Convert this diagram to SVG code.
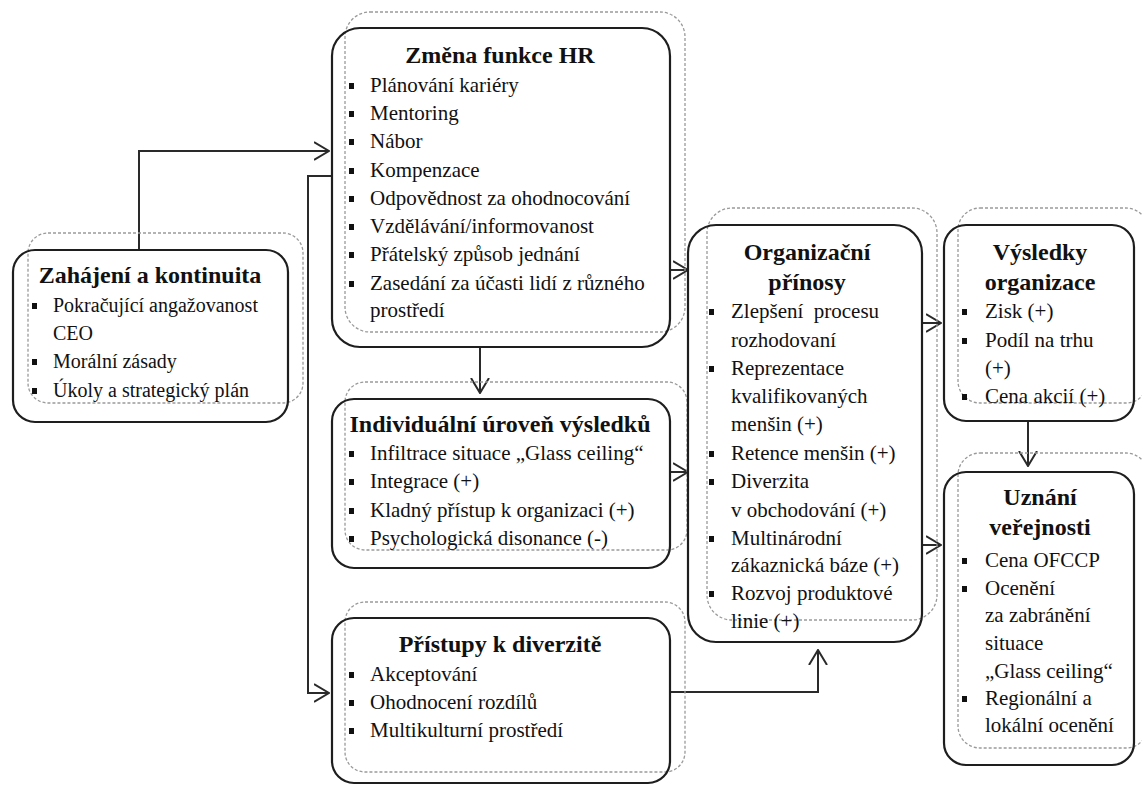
<svg xmlns="http://www.w3.org/2000/svg" xmlns:xlink="http://www.w3.org/1999/xlink" width="1142" height="787" viewBox="0 0 1142 787">
  <style>
    .box { fill: none; stroke: #1e1e1e; stroke-width: 2.2; }
    .shade { fill: none; stroke: #9a9a9a; stroke-width: 1.3; stroke-dasharray: 3 2; }
    text { font-family: 'Liberation Serif', 'Times New Roman', Times, 'DejaVu Serif', serif; fill: #111; }
    .title { font-weight: bold; font-size: 24px; text-anchor: middle; }
    .item { font-size: 21px; }
    .item20 { font-size: 20px; }
    .conn { fill: none; stroke: #2a2a2a; stroke-width: 2; }
  </style>
  <defs>
    <marker id="arr" viewBox="0 0 16 20" refX="15" refY="10" markerWidth="16" markerHeight="20" markerUnits="userSpaceOnUse" orient="auto">
      <path d="M0,1 L15,10 L0,19" fill="none" stroke="#2a2a2a" stroke-width="2"/>
    </marker>
    <rect id="bul" width="5" height="6" fill="#111"/>
  </defs>
  <rect width="1142" height="787" fill="#ffffff"/>

  <!-- connectors -->
  <g id="connectors">
    <path class="conn" d="M139,250 V151 H329" marker-end="url(#arr)"/>
    <path class="conn" d="M332,176 H308 V693 H329" marker-end="url(#arr)"/>
    <path class="conn" d="M480,347 V393" marker-end="url(#arr)"/>
    <path class="conn" d="M670,270 H688" marker-end="url(#arr)"/>
    <path class="conn" d="M670,472 H688" marker-end="url(#arr)"/>
    <path class="conn" d="M670,692 H818 V650" marker-end="url(#arr)"/>
    <path class="conn" d="M922,323 H941" marker-end="url(#arr)"/>
    <path class="conn" d="M922,545 H941" marker-end="url(#arr)"/>
    <path class="conn" d="M1028,421 V466" marker-end="url(#arr)"/>
  </g>

  <!-- Zahájení a kontinuita -->
  <g id="node-zahajeni">
    <rect class="shade" x="28" y="233" width="275" height="170" rx="20"/>
    <rect class="box" x="13" y="250" width="275" height="172" rx="22"/>
    <text class="title" x="150" y="283">Zahájení a kontinuita</text>
    <use xlink:href="#bul" x="32" y="303"/>
    <text class="item20" x="53" y="312">Pokračující angažovanost</text>
    <text class="item20" x="53" y="340">CEO</text>
    <use xlink:href="#bul" x="32" y="359"/>
    <text class="item20" x="53" y="368">Morální zásady</text>
    <use xlink:href="#bul" x="32" y="388"/>
    <text class="item20" x="53" y="397">Úkoly a strategický plán</text>
  </g>

  <!-- Změna funkce HR -->
  <g id="node-hr">
    <rect class="shade" x="345" y="12" width="340" height="320" rx="25"/>
    <rect class="box" x="332" y="28" width="338" height="319" rx="28"/>
    <text class="title" x="500" y="63">Změna funkce HR</text>
    <use xlink:href="#bul" x="349" y="83"/>
    <text class="item" x="370" y="92">Plánování kariéry</text>
    <use xlink:href="#bul" x="349" y="111"/>
    <text class="item" x="370" y="120">Mentoring</text>
    <use xlink:href="#bul" x="349" y="139"/>
    <text class="item" x="370" y="148">Nábor</text>
    <use xlink:href="#bul" x="349" y="168"/>
    <text class="item" x="370" y="177">Kompenzace</text>
    <use xlink:href="#bul" x="349" y="196"/>
    <text class="item" x="370" y="205">Odpovědnost za ohodnocování</text>
    <use xlink:href="#bul" x="349" y="224"/>
    <text class="item" x="370" y="233">Vzdělávání/informovanost</text>
    <use xlink:href="#bul" x="349" y="252"/>
    <text class="item" x="370" y="261">Přátelský způsob jednání</text>
    <use xlink:href="#bul" x="349" y="281"/>
    <text class="item" x="370" y="290">Zasedání za účasti lidí z různého</text>
    <text class="item" x="370" y="317">prostředí</text>
  </g>

  <!-- Individuální úroveň výsledků -->
  <g id="node-individualni">
    <rect class="shade" x="345" y="382" width="342" height="168" rx="20"/>
    <rect class="box" x="332" y="399" width="338" height="169" rx="22"/>
    <text class="title" x="500" y="432">Individuální úroveň výsledků</text>
    <use xlink:href="#bul" x="349" y="451"/>
    <text class="item" x="370" y="460">Infiltrace situace „Glass ceiling“</text>
    <use xlink:href="#bul" x="349" y="479"/>
    <text class="item" x="370" y="488">Integrace (+)</text>
    <use xlink:href="#bul" x="349" y="508"/>
    <text class="item" x="370" y="517">Kladný přístup k organizaci (+)</text>
    <use xlink:href="#bul" x="349" y="536"/>
    <text class="item" x="370" y="545">Psychologická disonance (-)</text>
  </g>

  <!-- Přístupy k diverzitě -->
  <g id="node-pristupy">
    <rect class="shade" x="345" y="602" width="340" height="170" rx="20"/>
    <rect class="box" x="332" y="618" width="338" height="165" rx="22"/>
    <text class="title" x="500" y="652">Přístupy k diverzitě</text>
    <use xlink:href="#bul" x="349" y="672"/>
    <text class="item" x="370" y="681">Akceptování</text>
    <use xlink:href="#bul" x="349" y="700"/>
    <text class="item" x="370" y="709">Ohodnocení rozdílů</text>
    <use xlink:href="#bul" x="349" y="728"/>
    <text class="item" x="370" y="737">Multikulturní prostředí</text>
  </g>

  <!-- Organizační přínosy -->
  <g id="node-organizacni">
    <rect class="shade" x="707" y="208" width="230" height="412" rx="25"/>
    <rect class="box" x="688" y="225" width="234" height="417" rx="28"/>
    <text class="title" x="807" y="260">Organizační</text>
    <text class="title" x="807" y="290">přínosy</text>
    <use xlink:href="#bul" x="709" y="309"/>
    <text class="item" x="731" y="318">Zlepšení&#160; procesu</text>
    <text class="item" x="731" y="347">rozhodovaní</text>
    <use xlink:href="#bul" x="709" y="366"/>
    <text class="item" x="731" y="375">Reprezentace</text>
    <text class="item" x="731" y="403">kvalifikovaných</text>
    <text class="item" x="731" y="431">menšin (+)</text>
    <use xlink:href="#bul" x="709" y="451"/>
    <text class="item" x="731" y="460">Retence menšin (+)</text>
    <use xlink:href="#bul" x="709" y="479"/>
    <text class="item" x="731" y="488">Diverzita</text>
    <text class="item" x="731" y="517">v obchodování (+)</text>
    <use xlink:href="#bul" x="709" y="536"/>
    <text class="item" x="731" y="545">Multinárodní</text>
    <text class="item" x="731" y="572">zákaznická báze (+)</text>
    <use xlink:href="#bul" x="709" y="591"/>
    <text class="item" x="731" y="600">Rozvoj produktové</text>
    <text class="item" x="731" y="628">linie (+)</text>
  </g>

  <!-- Výsledky organizace -->
  <g id="node-vysledky">
    <rect class="shade" x="958" y="208" width="190" height="195" rx="22"/>
    <rect class="box" x="944" y="225" width="190" height="196" rx="22"/>
    <text class="title" x="1040" y="260">Výsledky</text>
    <text class="title" x="1040" y="290">organizace</text>
    <use xlink:href="#bul" x="962" y="309"/>
    <text class="item" x="985" y="318">Zisk (+)</text>
    <use xlink:href="#bul" x="962" y="338"/>
    <text class="item" x="985" y="347">Podíl na trhu</text>
    <text class="item" x="985" y="375">(+)</text>
    <use xlink:href="#bul" x="962" y="394"/>
    <text class="item" x="985" y="403">Cena akcií (+)</text>
  </g>

  <!-- Uznání veřejnosti -->
  <g id="node-uznani">
    <rect class="shade" x="958" y="453" width="190" height="295" rx="22"/>
    <rect class="box" x="944" y="472" width="190" height="293" rx="22"/>
    <text class="title" x="1040" y="505">Uznání</text>
    <text class="title" x="1040" y="535">veřejnosti</text>
    <use xlink:href="#bul" x="962" y="558"/>
    <text class="item" x="985" y="567">Cena OFCCP</text>
    <use xlink:href="#bul" x="962" y="586"/>
    <text class="item" x="985" y="595">Ocenění</text>
    <text class="item" x="985" y="622">za zabránění</text>
    <text class="item" x="985" y="650">situace</text>
    <text class="item" x="985" y="678">„Glass ceiling“</text>
    <use xlink:href="#bul" x="962" y="696"/>
    <text class="item" x="985" y="705">Regionální a</text>
    <text class="item" x="985" y="732">lokální ocenění</text>
  </g>
</svg>
